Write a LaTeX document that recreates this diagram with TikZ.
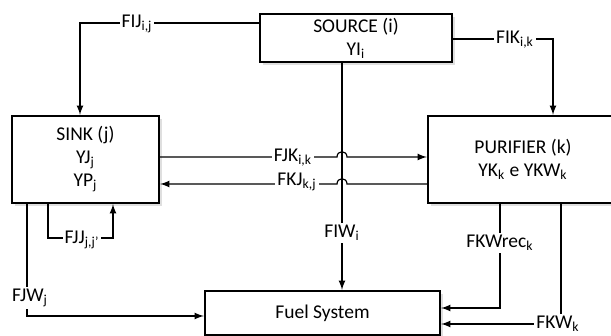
\documentclass[tikz,border=0pt]{standalone}
\usepackage{fontspec}
\setmainfont{Carlito}
\usetikzlibrary{shadows}

\tikzset{
  box/.style={draw, line width=1.2pt, fill=white, align=center, inner sep=2pt,
    drop shadow={opacity=0.25, shadow xshift=1.5pt, shadow yshift=-1.5pt}},
  flow/.style={line width=0.6pt},
  lbl/.style={fill=white, inner sep=1pt},
}

\begin{document}
\begin{tikzpicture}[>=latex, x=0.5pt, y=-0.5pt, font=\fontsize{9.75}{11.5}\selectfont]
    \useasboundingbox (0,0) rectangle (611,336);

    % Boxes
    \node[box, minimum width=96pt, minimum height=23.5pt] (src) at (356,38) {SOURCE (i)\\YI\textsubscript{i}};
    \node[box, minimum width=73.5pt, minimum height=43.5pt] (sink) at (85.5,159.5) {SINK (j)\\YJ\textsubscript{j}\\YP\textsubscript{j}};
    \node[box, minimum width=95pt, minimum height=43.5pt] (pur) at (523,159.5) {PURIFIER (k)\\YK\textsubscript{k} e YKW\textsubscript{k}};
    \node[box, minimum width=117.5pt, minimum height=22pt] (fuel) at (322.5,313) {Fuel System};

    % Source to sink and purifier
    \coordinate (fij) at (80,23);
    \draw[flow,->] (src.west |- fij) -- (fij) -- (sink.north -| fij);
    \node[lbl] (fijl) at (137,24) {FIJ\textsubscript{i,j}};

    \coordinate (fik) at (553,39);
    \draw[flow,->] (src.east |- fik) -- (fik) -- (pur.north -| fik);
    \node[lbl] (fikl) at (515,40) {FIK\textsubscript{i,k}};

    % Source to fuel system
    \coordinate (fiw) at (342,0);
    \draw[flow,->] (src.south -| fiw) -- (fuel.north -| fiw);
    \node[lbl] (fiwl) at (342,233) {FIW\textsubscript{i}};

    % Sink <-> purifier (hopping over FIW)
    \coordinate (fjk) at (0,157);
    \draw[flow,->] (sink.east |- fjk) -- (337,157) .. controls (337,150) and (347,150) .. (347,157) -- (pur.west |- fjk);
    \node[lbl] (fjkl) at (293,158) {FJK\textsubscript{i,k}};

    \coordinate (fkj) at (0,184);
    \draw[flow,<-] (sink.east |- fkj) -- (337,184) .. controls (337,177) and (347,177) .. (347,184) -- (pur.west |- fkj);
    \node[lbl] (fkjl) at (297,182) {FKJ\textsubscript{k,j}};

    % Sink recycle and sink to fuel system
    \coordinate (fjja) at (48,238);
    \coordinate (fjjb) at (113,238);
    \draw[flow,->] (sink.south -| fjja) -- (fjja) -- (fjjb) -- (sink.south -| fjjb);
    \node[lbl] (fjjl) at (82,240) {FJJ\textsubscript{j,j'}};

    \coordinate (fjw) at (27,316);
    \draw[flow,->] (sink.south -| fjw) -- (fjw) -- (fuel.west |- fjw);
    \node[lbl] (fjwl) at (30,298) {FJW\textsubscript{j}};

    % Purifier to fuel system
    \coordinate (fkwr) at (500,308);
    \draw[flow,->] (pur.south -| fkwr) -- (fkwr) -- (fuel.east |- fkwr);
    \node[lbl] (fkwrl) at (500,243) {FKWrec\textsubscript{k}};

    \coordinate (fkw) at (561,324);
    \draw[flow,->] (pur.south -| fkw) -- (fkw) -- (fuel.east |- fkw);
    \node[lbl] (fkwl) at (558,324) {FKW\textsubscript{k}};
\end{tikzpicture}
\end{document}
